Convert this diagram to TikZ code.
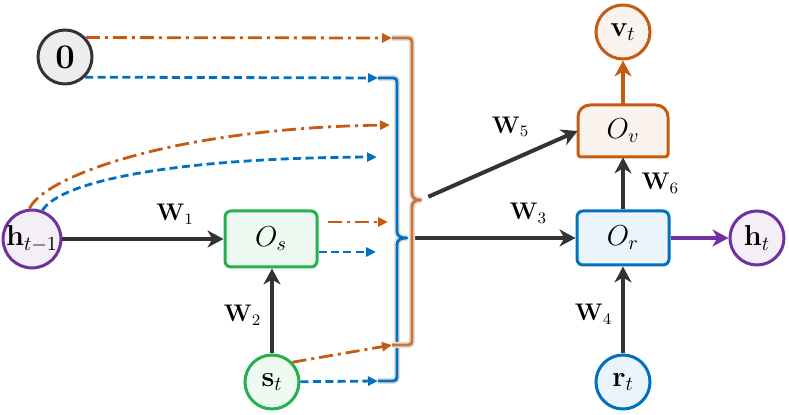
\documentclass[tikz,border=0pt]{standalone}
\usepackage{amsmath,amssymb}
\usetikzlibrary{arrows.meta}

\definecolor{myorange}{HTML}{C55A11}
\definecolor{myblue}{HTML}{0070C0}
\definecolor{mygreen}{HTML}{22B14C}
\definecolor{mypurple}{HTML}{7030A0}
\definecolor{mydark}{HTML}{333333}

\begin{document}
\begin{tikzpicture}[x=0.5pt,y=-0.5pt,
  state/.style={circle,line width=1.5pt,minimum size=27pt,inner sep=0pt,font=\Large},
  unit/.style={rectangle,rounded corners=3pt,line width=1.5pt,minimum width=46pt,minimum height=28pt,font=\Large},
  wlink/.style={draw=mydark,line width=2pt,-{Stealth[length=8pt,width=8.5pt,inset=2.5pt]}},
  dashlink/.style={draw=myblue,line width=1.4pt,dash pattern=on 4pt off 2.2pt,-{Triangle[length=5pt,width=4.5pt]}},
  dotlink/.style={draw=myorange,line width=1.4pt,dash pattern=on 7pt off 2.5pt on 1.5pt off 2.5pt,-{Triangle[length=5pt,width=4.5pt]}},
  bracepath/.style={line width=1.4pt,line join=round,preaction={draw=black!12,line width=3.2pt}},
  wlabel/.style={font=\large}]
\useasboundingbox (0,0) rectangle (789,415);
% Inputs
\node[state,draw=mydark,fill=black!7,font=\LARGE] (zero) at (65,57) {$\mathbf{0}$};
\node[state,draw=mypurple,fill=mypurple!8] (hprev) at (32,239) {$\mathbf{h}_{t-1}$};
\node[state,draw=mygreen,fill=mygreen!8] (st) at (272,382) {$\mathbf{s}_t$};
\node[state,draw=myblue,fill=myblue!8] (rt) at (623,382) {$\mathbf{r}_t$};
% Units
\node[unit,draw=mygreen,fill=mygreen!8] (Os) at (271,239) {$O_s$};
\node[unit,draw=myblue,fill=myblue!8,minimum height=27pt] (Or) at (623,238) {$O_r$};
\draw[myorange,line width=1.5pt,fill=myorange!8] (578,154) -- (578,117) arc[start angle=180,end angle=90,radius=6pt]
  -- (656,105) arc[start angle=90,end angle=0,radius=6pt] -- (668,154) arc[start angle=0,end angle=-90,radius=1.5pt]
  -- (581,157) arc[start angle=270,end angle=180,radius=1.5pt] -- cycle;
\node[minimum width=45pt,minimum height=26pt,font=\Large] (Ov) at (623,131) {$O_v$};
% Outputs
\node[state,draw=myorange,fill=myorange!8] (vt) at (623,32) {$\mathbf{v}_t$};
\node[state,draw=mypurple,fill=mypurple!8] (ht) at (757,238) {$\mathbf{h}_t$};
% Free ends of the dashed links
\coordinate (za) at (392,38);
\coordinate (zb) at (378,78);
\coordinate (ha) at (390,125);
\coordinate (hb) at (377,157);
\coordinate (sa) at (328,222);
\coordinate (sae) at (388,222);
\coordinate (sbe) at (376,252);
\coordinate (ta) at (392,345);
\coordinate (tb) at (378,381);
% Brace tips
\coordinate (otip) at (421,200);
\coordinate (btip) at (407,238);
% Weighted links
\draw[wlink] (hprev) -- (Os) node[pos=0.7,above=3pt,wlabel] (w1) {$\mathbf{W}_1$};
\draw[wlink] (st) -- (st |- Os.south) node[pos=0.45,left=1pt,wlabel] (w2) {$\mathbf{W}_2$};
\draw[wlink,shorten <=4pt] (btip) -- (Or) node[pos=0.72,above=3pt,wlabel] (w3) {$\mathbf{W}_3$};
\draw[wlink] (rt) -- (Or) node[pos=0.45,left=1pt,wlabel] (w4) {$\mathbf{W}_4$};
\draw[wlink,shorten <=4pt] (otip) -- (Ov.west) node[pos=0.76,above left=1pt,wlabel] (w5) {$\mathbf{W}_5$};
\draw[wlink] (Or) -- (Ov) node[pos=0.5,right=5pt,wlabel] (w6) {$\mathbf{W}_6$};
\draw[draw=myorange,line width=2pt,-{Stealth[length=8pt,width=8.5pt,inset=2.5pt]}] (Ov.north) -- (vt);
\draw[draw=mypurple,line width=2pt,-{Stealth[length=8pt,width=8.5pt,inset=2.5pt]}] (Or) -- (ht);
% Dashed links
\draw[dotlink] (zero.43) -- (za);
\draw[dashlink] (zero.-45) -- (zb);
\draw[dotlink] (hprev.95) .. controls (45,175) and (180,128) .. (ha);
\draw[dashlink] (hprev.70) .. controls (60,182) and (170,158) .. (hb);
\draw[dotlink] (sa) -- (sae);
\draw[dashlink] (Os.east |- sbe) -- (sbe);
\draw[dotlink] (st.44) -- (ta);
\draw[dashlink] (st) -- (tb);
% Braces
\draw[bracepath,myblue] (zb) -- (389,78) .. controls (397,78) .. (397,86) -- (397,231)
  .. controls (397,236) and (400,238) .. (btip) .. controls (400,238) and (397,240) .. (397,245)
  -- (397,373) .. controls (397,381) .. (389,381) -- (tb);
\draw[bracepath,myorange!85!white] (za) -- (404,38) .. controls (412,38) .. (412,46) -- (412,193)
  .. controls (412,198) and (415,200) .. (otip) .. controls (415,200) and (412,202) .. (412,207)
  -- (412,337) .. controls (412,345) .. (404,345) -- (ta);
\end{tikzpicture}
\end{document}
